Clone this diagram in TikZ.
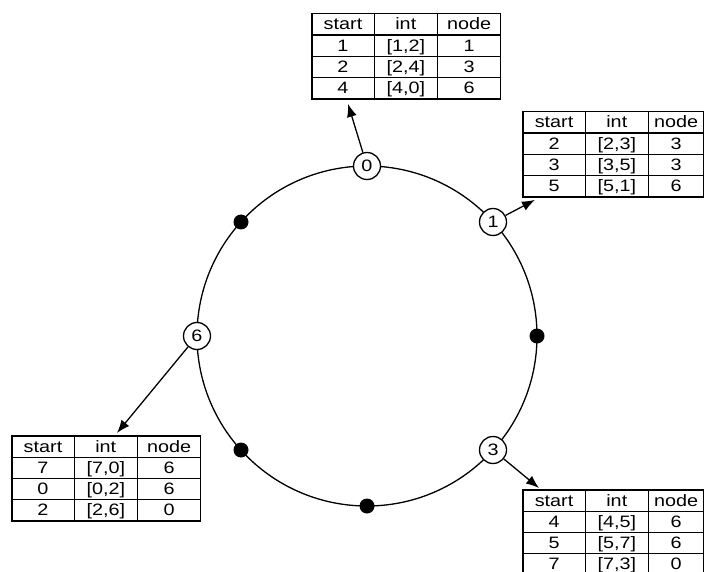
\documentclass[tikz,border=0pt]{standalone}
\usepackage{fontspec}
\setmainfont[FakeStretch=1.2]{Liberation Sans}
\usepackage{array}
\usetikzlibrary{arrows.meta}

\newcolumntype{C}[1]{>{\centering\arraybackslash}p{#1}}
\newcommand{\fingertab}[2]{%
  {\fontsize{16.5}{15}\selectfont\setlength\tabcolsep{0pt}%
   \setlength\extrarowheight{5pt}\setlength\arrayrulewidth{1.3pt}%
   \begin{tabular}{|C{61pt}|C{62pt}|C{#1}|}\hline
   start & int & node\\\hline #2
   \end{tabular}}}

\tikzset{
  peer/.style={circle, draw, line width=1.3pt, fill=white, minimum size=27pt,
    inner sep=0pt, font=\fontsize{16.5}{15}\selectfont},
  key/.style={circle, fill=black, minimum size=15pt, inner sep=0pt},
  tab/.style={inner sep=0pt, anchor=north west},
  ptr/.style={-{Latex[length=13pt,width=10pt]}, line width=1.3pt},
}

\begin{document}
\begin{tikzpicture}[x=1pt,y=-1pt]
	\useasboundingbox (0,0) rectangle (704,572);
	\coordinate (c) at (367,336);
	\draw[line width=1.3pt] (c) circle[radius=170pt];
	
	% keys on the ring
	\node[key] (k2) at (241,222) {};
	\node[key] (k4) at (537,336) {};
	\node[key] (k5) at (367,506) {};
	\node[key] (k7) at (241,450) {};
	
	% peers
	\node[peer] (n0) at (367,166) {0};
	\node[peer] (n1) at (493,222) {1};
	\node[peer] (n3) at (493,450) {3};
	\node[peer] (n6) at (197,336) {6};
	
	% finger tables
	\node[tab] (t0) at (311,13) {\fingertab{62pt}{1 & [1,2] & 1\\\hline 2 & [2,4] & 3\\\hline 4 & [4,0] & 6\\\hline}};
	\node[tab] (t1) at (522,111) {\fingertab{54pt}{2 & [2,3] & 3\\\hline 3 & [3,5] & 3\\\hline 5 & [5,1] & 6\\\hline}};
	\node[tab] (t6) at (11,435) {\fingertab{62pt}{7 & [7,0] & 6\\\hline 0 & [0,2] & 6\\\hline 2 & [2,6] & 0\\\hline}};
	\node[tab] (t3) at (522,489) {\fingertab{54pt}{4 & [4,5] & 6\\\hline 5 & [5,7] & 6\\\hline 7 & [7,3] & 0\\\hline}};
	
	% pointers
	\draw[ptr] (n0) -- ([xshift=37pt,yshift=-4pt]t0.south west);
	\draw[ptr] (n1) -- ([xshift=13pt,yshift=-2pt]t1.south west);
	\draw[ptr] (n6) -- ([xshift=106pt,yshift=2pt]t6.north west);
	\draw[ptr] (n3) -- ([xshift=17pt,yshift=1pt]t3.north west);
\end{tikzpicture}
\end{document}
